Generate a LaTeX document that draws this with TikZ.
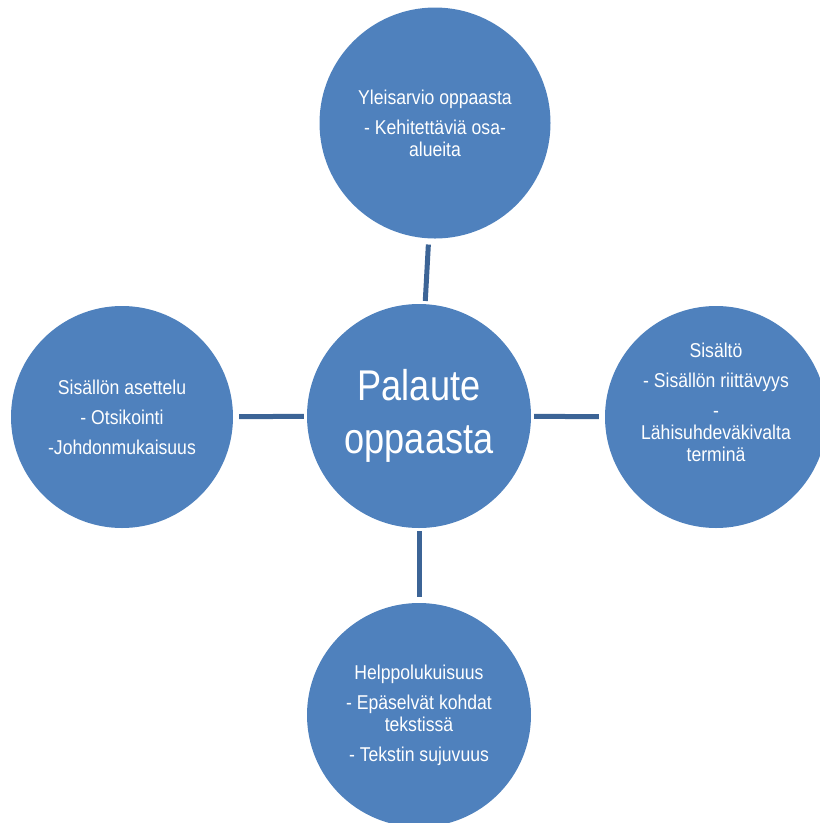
\documentclass[tikz,border=0pt]{standalone}
\usepackage{fontspec}
\newfontfamily\kapea{Liberation Sans}[FakeStretch=0.88]
\newfontfamily\kapeampi{Liberation Sans}[FakeStretch=0.84]
\usetikzlibrary{positioning}
\definecolor{palloSini}{HTML}{4F81BD}
\definecolor{viivaSini}{HTML}{3C6496}

\tikzset{
  pallo/.style={circle, fill=palloSini, inner sep=0pt, text=white, align=center,
                font=\kapea\fontsize{20}{22}\selectfont},
  iso/.style={font=\kapeampi\fontsize{43}{53}\selectfont},
  teksti/.style={text=white, align=center, font=\kapea\fontsize{20}{22}\selectfont},
  yhteys/.style={draw=viivaSini, line width=5pt, shorten <=3pt, shorten >=6pt}
}

\begin{document}
\begin{tikzpicture}[x=1pt,y=-1pt]
\clip (0,0) rectangle (820,823);
% keskipallo ja neljä aihetta
\node[pallo, iso, minimum size=224pt] (palaute) at (419,416) {Palaute\\oppaasta};
\node[pallo, minimum size=231pt] (yleis) at (435,123)
    {Yleisarvio oppaasta\\[8pt]- Kehitettäviä osa-\\alueita};
\node[pallo, minimum size=222pt] (asettelu) at (122,417)
    {Sisällön asettelu\\[8pt]- Otsikointi\\[8pt]-Johdonmukaisuus};
\node[pallo, minimum size=222pt] (sisalto) at (716,417) {};
\node[teksti] (sisalto-t) at (716,402)
    {Sisältö\\[8pt]- Sisällön riittävyys\\[8pt]-\\Lähisuhdeväkivalta\\terminä};
\node[pallo, minimum size=224pt] (luku) at (419,715)
    {Helppolukuisuus\\[8pt]- Epäselvät kohdat\\tekstissä\\[8pt]- Tekstin sujuvuus};

% yhdysviivat
\draw[yhteys] (palaute) -- (yleis);
\draw[yhteys] (palaute) -- (asettelu);
\draw[yhteys] (palaute) -- (sisalto);
\draw[yhteys] (palaute) -- (luku);
\end{tikzpicture}
\end{document}
